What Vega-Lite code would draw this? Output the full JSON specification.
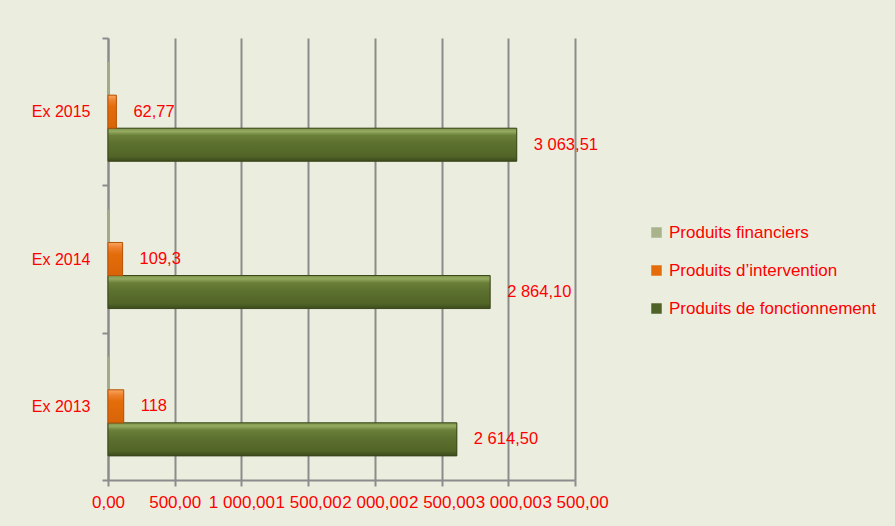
{
  "$schema": "https://vega.github.io/schema/vega-lite/v6.json",
  "width": 467,
  "height": 442,
  "autosize": {"type": "none"},
  "padding": {"left": 108, "top": 38, "right": 320, "bottom": 46},
  "background": "#EBEEDF",
  "config": {
    "locale": {"number": {"decimal": ",", "thousands": " ", "grouping": [3], "currency": ["", ""]}},
    "view": {"stroke": null},
    "font": "Liberation Sans"
  },
  "data": {
    "values": [
      {"annee": "Ex 2015", "serie": "Produits financiers", "valeur": 6, "label": null},
      {"annee": "Ex 2015", "serie": "Produits d’intervention", "valeur": 62.77, "label": "62,77"},
      {"annee": "Ex 2015", "serie": "Produits de fonctionnement", "valeur": 3063.51, "label": "3 063,51"},
      {"annee": "Ex 2014", "serie": "Produits financiers", "valeur": 6, "label": null},
      {"annee": "Ex 2014", "serie": "Produits d’intervention", "valeur": 109.3, "label": "109,3"},
      {"annee": "Ex 2014", "serie": "Produits de fonctionnement", "valeur": 2864.1, "label": "2 864,10"},
      {"annee": "Ex 2013", "serie": "Produits financiers", "valeur": 6, "label": null},
      {"annee": "Ex 2013", "serie": "Produits d’intervention", "valeur": 118, "label": "118"},
      {"annee": "Ex 2013", "serie": "Produits de fonctionnement", "valeur": 2614.5, "label": "2 614,50"}
    ]
  },
  "encoding": {
    "y": {
      "field": "annee",
      "type": "nominal",
      "sort": ["Ex 2015", "Ex 2014", "Ex 2013"],
      "scale": {"paddingInner": 0, "paddingOuter": 0},
      "axis": {
        "title": null,
        "tickBand": "extent",
        "grid": false,
        "domainColor": "#8C8C8C",
        "domainWidth": 2,
        "tickColor": "#8C8C8C",
        "tickWidth": 2,
        "tickSize": 6,
        "labelColor": "#FF0000",
        "labelFontSize": 16,
        "labelPadding": 12
      }
    },
    "yOffset": {
      "field": "serie",
      "type": "nominal",
      "scale": {
        "domain": ["Produits financiers", "Produits d’intervention", "Produits de fonctionnement"],
        "paddingInner": 0,
        "paddingOuter": 0.73
      }
    },
    "x": {
      "field": "valeur",
      "type": "quantitative",
      "scale": {"domain": [0, 3500], "nice": false},
      "axis": {
        "title": null,
        "values": [0, 500, 1000, 1500, 2000, 2500, 3000, 3500],
        "format": ",.2f",
        "grid": true,
        "gridColor": "#8C8C8C",
        "gridWidth": 2,
        "domainColor": "#8C8C8C",
        "domainWidth": 2,
        "tickColor": "#8C8C8C",
        "tickWidth": 2,
        "tickSize": 6,
        "labelColor": "#FF0000",
        "labelFontSize": 17,
        "labelPadding": 8,
        "labelOverlap": false,
        "labelFlush": false
      }
    }
  },
  "layer": [
    {
      "mark": {"type": "bar"},
      "encoding": {
        "color": {
          "field": "serie",
          "type": "nominal",
          "scale": {
            "domain": ["Produits financiers", "Produits d’intervention", "Produits de fonctionnement"],
            "range": ["#A9B48C", "#E46C0A", "#4F6228"]
          },
          "legend": {
            "title": null,
            "orient": "none",
            "legendX": 540,
            "legendY": 186,
            "labelColor": "#FF0000",
            "labelFontSize": 17,
            "labelLimit": 0,
            "symbolType": "square",
            "symbolSize": 110,
            "symbolStrokeWidth": 0,
            "rowPadding": 20,
            "labelOffset": 4
          }
        }
      }
    },
    {
      "transform": [{"filter": "datum.serie === 'Produits de fonctionnement'"}],
      "mark": {
        "type": "bar",
        "stroke": "#3B471B",
        "strokeWidth": 1,
        "color": {
          "gradient": "linear",
          "x1": 0, "y1": 0, "x2": 0, "y2": 1,
          "stops": [
            {"offset": 0, "color": "#7E9448"},
            {"offset": 0.1, "color": "#94AA60"},
            {"offset": 0.22, "color": "#6A7F38"},
            {"offset": 0.5, "color": "#5B6F2E"},
            {"offset": 0.85, "color": "#526527"},
            {"offset": 1, "color": "#3C4A1C"}
          ]
        }
      }
    },
    {
      "transform": [{"filter": "datum.serie === 'Produits d’intervention'"}],
      "mark": {
        "type": "bar",
        "stroke": "#B65408",
        "strokeWidth": 1,
        "color": {
          "gradient": "linear",
          "x1": 0, "y1": 0, "x2": 0, "y2": 1,
          "stops": [
            {"offset": 0, "color": "#F8A860"},
            {"offset": 0.15, "color": "#EE8230"},
            {"offset": 0.35, "color": "#E46C0A"},
            {"offset": 1, "color": "#D86408"}
          ]
        }
      }
    },
    {
      "transform": [{"filter": "datum.label !== null"}],
      "mark": {"type": "text", "align": "left", "baseline": "middle", "dx": 17, "color": "#FF0000", "fontSize": 16.5},
      "encoding": {"text": {"field": "label", "type": "nominal"}}
    }
  ]
}
